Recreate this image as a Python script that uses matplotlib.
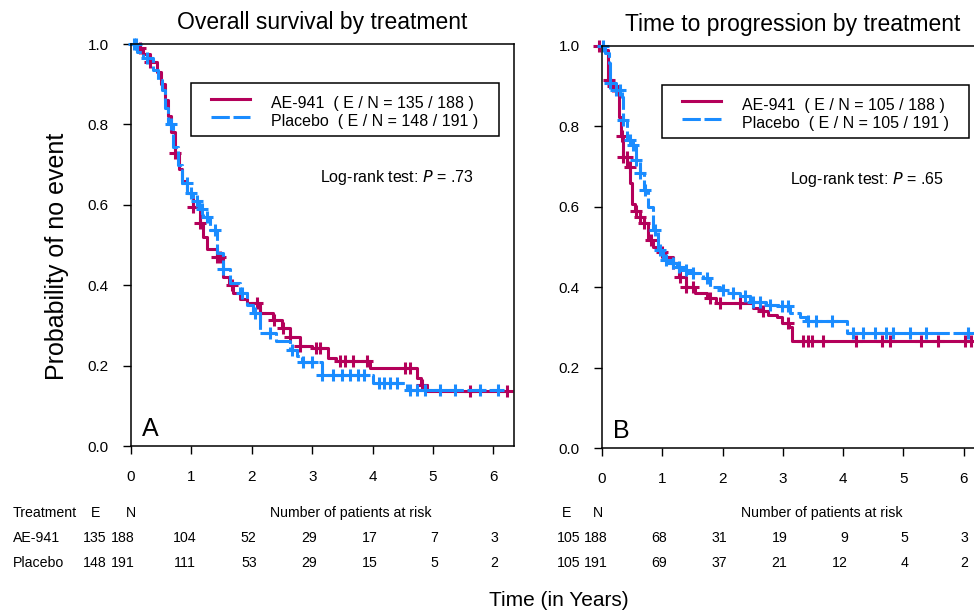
import numpy as np
import matplotlib
matplotlib.use("Agg")
import matplotlib.pyplot as plt
from matplotlib import transforms
from matplotlib.patches import Rectangle

plt.rcParams['font.family'] = ['Liberation Sans', 'DejaVu Sans']

W, H = 974, 613
MAGENTA = '#b4005a'
BLUE = '#1a8cff'

# ---- panel A: overall survival (step knots) ----
os_ae_t = [0, 0.07, 0.2, 0.31, 0.43, 0.5, 0.56, 0.62, 0.67, 0.73, 0.79, 0.84, 0.92, 1.03,
           1.14, 1.2, 1.26, 1.42, 1.53, 1.62, 1.69, 1.8, 1.92, 2.14, 2.35, 2.5, 2.63, 2.8,
           3.0, 3.26, 3.4, 3.96, 4.73, 4.8, 4.9]
os_ae_s = [1.0, 0.99, 0.975, 0.955, 0.93, 0.9, 0.86, 0.82, 0.78, 0.73, 0.69, 0.66, 0.63, 0.595,
           0.555, 0.52, 0.49, 0.47, 0.42, 0.40, 0.38, 0.365, 0.355, 0.33, 0.313, 0.293, 0.27, 0.25,
           0.244, 0.22, 0.212, 0.195, 0.17, 0.152, 0.137]
os_ae_cens = [0.15, 0.31, 0.73, 1.03, 1.14, 1.42, 1.47, 1.67, 2.08, 2.14, 2.36, 2.52, 2.63, 2.8,
              3.07, 3.13, 3.46, 3.54, 3.68, 3.9, 4.54, 4.62, 4.81, 5.61, 6.22]

os_pl_t = [0, 0.1, 0.2, 0.37, 0.45, 0.51, 0.57, 0.62, 0.7, 0.77, 0.84, 0.93, 1.03, 1.12, 1.2,
           1.31, 1.42, 1.53, 1.64, 1.8, 1.92, 2.02, 2.14, 2.4, 2.63, 2.75, 2.83, 3.16, 4.0, 4.57]
os_pl_s = [1.0, 0.98, 0.965, 0.935, 0.91, 0.885, 0.84, 0.80, 0.745, 0.70, 0.655, 0.63, 0.61, 0.59,
           0.57, 0.537, 0.48, 0.44, 0.405, 0.38, 0.35, 0.33, 0.28, 0.26, 0.24, 0.225, 0.21, 0.177,
           0.157, 0.14]
os_pl_cens = [0.05, 0.09, 0.26, 0.67, 0.92, 1.0, 1.09, 1.17, 1.25, 1.39, 1.53, 1.83, 2.05, 2.3,
              2.66, 2.85, 2.99, 3.16, 3.35, 3.49, 3.63, 3.76, 3.85, 4.1, 4.19, 4.29, 4.4, 4.62,
              4.73, 4.87, 5.12, 5.37, 5.78, 6.08]

# ---- panel B: time to progression ----
ttp_ae_t = [0, 0.03, 0.1, 0.18, 0.25, 0.28, 0.31, 0.35, 0.42, 0.47, 0.5, 0.55, 0.63, 0.69, 0.77,
            0.85, 0.93, 1.04, 1.18, 1.27, 1.4, 1.54, 1.74, 1.9, 2.5, 2.62, 2.75, 2.9, 2.98, 3.1, 3.15]
ttp_ae_s = [1.0, 0.99, 0.915, 0.90, 0.88, 0.824, 0.775, 0.725, 0.70, 0.658, 0.608, 0.59, 0.575,
            0.559, 0.517, 0.50, 0.488, 0.476, 0.46, 0.426, 0.401, 0.385, 0.372, 0.36, 0.348, 0.34,
            0.33, 0.325, 0.31, 0.30, 0.265]
ttp_ae_cens = [-0.05, 0.11, 0.19, 0.33, 0.35, 0.41, 0.46, 0.57, 0.63, 0.69, 0.82, 0.99, 1.18, 1.29,
               1.4, 1.51, 1.79, 1.96, 2.29, 2.68, 3.09, 3.34, 3.42, 3.48, 3.67, 4.22, 4.64, 4.78,
               5.3, 5.58, 6.02, 6.13]

ttp_pl_t = [0, 0.05, 0.11, 0.13, 0.24, 0.33, 0.35, 0.41, 0.49, 0.57, 0.63, 0.69, 0.77, 0.85, 0.93,
            1.02, 1.13, 1.24, 1.35, 1.51, 1.68, 1.79, 1.96, 2.12, 2.29, 2.45, 2.73, 2.95, 3.12,
            3.28, 3.39, 4.06]
ttp_pl_s = [1.0, 0.982, 0.957, 0.907, 0.89, 0.874, 0.816, 0.766, 0.754, 0.716, 0.683, 0.642, 0.60,
            0.542, 0.492, 0.468, 0.46, 0.451, 0.443, 0.435, 0.423, 0.401, 0.393, 0.385, 0.377,
            0.364, 0.356, 0.352, 0.335, 0.327, 0.315, 0.286]
ttp_pl_cens = [0.02, 0.13, 0.24, 0.3, 0.35, 0.46, 0.52, 0.57, 0.63, 0.71, 0.88, 0.96, 1.07, 1.18,
               1.27, 1.4, 1.51, 1.74, 2.01, 2.18, 2.37, 2.51, 2.62, 2.79, 2.98, 3.09, 3.42, 3.56,
               3.81, 4.17, 4.33, 4.53, 4.72, 4.83, 5.11, 5.38, 6.08]

# legend labels, p-values, risk table
os_labels = ['AE-941  ( E / N = 135 / 188 )', 'Placebo  ( E / N = 148 / 191 )']
ttp_labels = ['AE-941  ( E / N = 105 / 188 )', 'Placebo  ( E / N = 105 / 191 )']
os_p = '.73'
ttp_p = '.65'
risk_years = [1, 2, 3, 4, 5, 6]
os_en = [('135', '188'), ('148', '191')]
ttp_en = [('105', '188'), ('105', '191')]
os_risk_ae = [104, 52, 29, 17, 7, 3]
os_risk_pl = [111, 53, 29, 15, 5, 2]
ttp_risk_ae = [68, 31, 19, 9, 5, 3]
ttp_risk_pl = [69, 37, 21, 12, 4, 2]
groups = ['AE-941', 'Placebo']


def km_panel(ax, t_ae, s_ae, c_ae, t_pl, s_pl, c_pl, labels, pval, letter, title):
    for t, s, c, col, dash in [(t_ae, s_ae, c_ae, MAGENTA, None),
                               (t_pl, s_pl, c_pl, BLUE, (6, 1.2))]:
        t = np.array(t)
        s = np.array(s)
        t_end = max(c)
        line, = ax.step(np.r_[t, t_end], np.r_[s, s[-1]], where='post', color=col, lw=2.2)
        if dash:
            line.set_dashes(dash)
        c = np.array(c)
        idx = np.clip(np.searchsorted(t, c, side='right') - 1, 0, None)
        ax.plot(c, s[idx], ls='none', marker='+', ms=8, mew=2.2, color=col, clip_on=False)

    ax.set_xlim(0, 6.34)
    ax.set_ylim(0, 1)
    ax.set_xticks(range(7))
    ax.set_yticks(np.arange(0, 1.01, 0.2))
    ax.set_yticklabels(['%.1f' % v for v in np.arange(0, 1.01, 0.2)])
    ax.tick_params(direction='out', length=6, width=1, labelsize=11, pad=10)
    ax.tick_params(axis='x', pad=11)
    for sp in ax.spines.values():
        sp.set_linewidth(1.1)
    ax.set_title(title, fontsize=16.5, pad=11)

    # legend box drawn by hand so the frame matches the original
    ax.add_patch(Rectangle((0.157, 0.772), 0.805, 0.131, transform=ax.transAxes,
                           fill=False, ec='black', lw=1.1))
    ax.plot([0.209, 0.311], [0.862, 0.862], transform=ax.transAxes, color=MAGENTA, lw=2.2)
    ax.plot([0.209, 0.311], [0.818, 0.818], transform=ax.transAxes, color=BLUE, lw=2.2,
            dashes=(6, 1.2))
    ax.text(0.366, 0.853, labels[0], transform=ax.transAxes, fontsize=11.5, va='center')
    ax.text(0.366, 0.808, labels[1], transform=ax.transAxes, fontsize=11.5, va='center')

    ax.text(0.895, 0.667, 'Log-rank test: $\\it{P}$ = ' + pval, transform=ax.transAxes,
            fontsize=11.5, ha='right', va='center')
    ax.text(0.028, 0.025, letter, transform=ax.transAxes, fontsize=18, ha='left', va='baseline')


def risk_table(fig, ax, en, risk_ae, risk_pl, e_x, n_x, head_e, head_n, center_x, show_names):
    row_y = [(H - 538) / H, (H - 563) / H]
    head_y = (H - 513) / H
    fs = 10.2
    if show_names:
        fig.text(13 / W, head_y, 'Treatment', fontsize=fs, va='center')
    fig.text(head_e / W, head_y, 'E', fontsize=fs, va='center', ha='center')
    fig.text(head_n / W, head_y, 'N', fontsize=fs, va='center', ha='center')
    fig.text(center_x / W, head_y, 'Number of patients at risk', fontsize=fs, va='center',
             ha='center')
    trans = transforms.blended_transform_factory(ax.transData, fig.transFigure)
    for i, (vals, (e, n)) in enumerate(zip([risk_ae, risk_pl], en)):
        if show_names:
            fig.text(13 / W, row_y[i], groups[i], fontsize=fs, va='center')
        fig.text(e_x / W, row_y[i], e, fontsize=fs, va='center', ha='right')
        fig.text(n_x / W, row_y[i], n, fontsize=fs, va='center', ha='right')
        for yr, v in zip(risk_years, vals):
            fig.text(yr + 0.08, row_y[i], str(v), transform=trans, fontsize=fs, va='center',
                     ha='right')


fig = plt.figure(figsize=(W / 100, H / 100), dpi=100)
axA = fig.add_axes([131 / W, (H - 446) / H, 383 / W, 402 / H])
axB = fig.add_axes([602 / W, (H - 448) / H, 382 / W, 402 / H])

km_panel(axA, os_ae_t, os_ae_s, os_ae_cens, os_pl_t, os_pl_s, os_pl_cens,
         os_labels, os_p, 'A', 'Overall survival by treatment')
km_panel(axB, ttp_ae_t, ttp_ae_s, ttp_ae_cens, ttp_pl_t, ttp_pl_s, ttp_pl_cens,
         ttp_labels, ttp_p, 'B', 'Time to progression by treatment')

risk_table(fig, axA, os_en, os_risk_ae, os_risk_pl, 107, 135, 96, 131, 351, True)
risk_table(fig, axB, ttp_en, ttp_risk_ae, ttp_risk_pl, 580, 608, 567, 598, 822, False)

fig.text(57 / W, (H - 256) / H, 'Probability of no event', rotation=90, fontsize=18,
         ha='center', va='center')
fig.text(559 / W, (H - 601) / H, 'Time (in Years)', fontsize=15, ha='center', va='center')

fig.savefig('out.png', dpi=100)
